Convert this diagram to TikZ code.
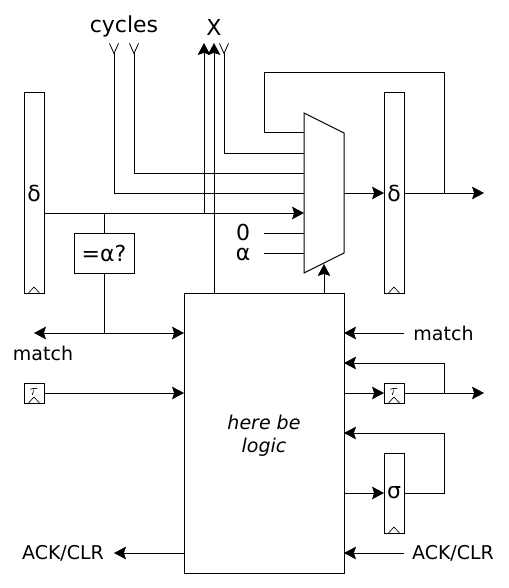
\documentclass[tikz,border=0pt]{standalone}
\usepackage{fontspec}
\setmainfont{DejaVu Sans}
\usetikzlibrary{arrows.meta,calc}
\tikzset{
  x=0.75pt,y=-0.75pt,
  every path/.style={line width=0.75pt},
  wire/.style={draw=black},
  arr/.style={wire,-{Stealth[length=9pt,width=9.5pt,inset=1.6pt]}},
  barr/.style={wire,{Stealth[length=9pt,width=9.5pt,inset=1.6pt]}-{Stealth[length=9pt,width=9.5pt,inset=1.6pt]}},
  openin/.style={wire,{Straight Barb[reversed,length=7.5pt,width=6.8pt,line width=0.6pt]}-},
  reg/.style={draw=black,rectangle,minimum width=15pt,inner sep=0pt,outer sep=0pt,line width=0.75pt},
  box/.style={draw=black,rectangle,inner sep=0pt,outer sep=0pt,line width=0.75pt},
  smalltxt/.style={font=\fontsize{14.25}{17}\selectfont,inner sep=0pt},
  bigtxt/.style={font=\fontsize{16.5}{19}\selectfont,inner sep=0pt},
  clk/.style={draw=black,line width=0.5pt},
}
\newcommand{\clocktick}[1]{\draw[clk] ($(#1.south)+(-5.5,0)$) -- ($(#1.south)+(0,-6)$) -- ($(#1.south)+(5.5,0)$);}
\begin{document}
\begin{tikzpicture}
\useasboundingbox (0,0) rectangle (509,588);
% registers and boxes
\node[reg,minimum height=150pt,bigtxt] (dl) at (34,193) {δ};
\node[reg,minimum height=150pt,bigtxt] (dr) at (394,193) {δ};
\node[reg,minimum height=15pt] (tl) at (34,393) {\raisebox{1.6pt}{\large$\tau$}};
\node[reg,minimum height=15pt] (tr) at (394,393) {\raisebox{1.6pt}{\large$\tau$}};
\node[reg,minimum height=60pt,bigtxt] (sg) at (394,493) {σ};
\node[box,minimum width=45pt,minimum height=30pt,bigtxt] (eq) at (104,253) {=α?};
\node[box,minimum width=120pt,minimum height=210pt,inner sep=0pt] (lg) at (264,433) {};
\node[align=center,inner sep=0pt,font=\fontsize{14.25}{17.25}\selectfont\itshape] (lgt) at (264,436) {here be\\logic};
\clocktick{dl}\clocktick{dr}\clocktick{tl}\clocktick{tr}\clocktick{sg}
% mux
\coordinate (m1) at (304,113);
\coordinate (m2) at (344,133);
\coordinate (m3) at (344,253);
\coordinate (m4) at (304,273);
\draw (m1) -- (m2) -- (m3) -- (m4) -- cycle;
\coordinate (mfb) at (304,133);
\coordinate (mx) at (304,153);
\coordinate (mc2) at (304,173);
\coordinate (mc1) at (304,193);
\coordinate (md) at (304,213);
\coordinate (mz) at (304,233);
\coordinate (ma) at (304,253);
\coordinate (mo) at (344,193);
\coordinate (ms) at (324,264);
% text labels
\node[bigtxt] (cyc) at (124,26) {cycles};
\node[bigtxt] (xl) at (214,27) {X};
\node[bigtxt] (zero) at (243,232) {0};
\node[bigtxt] (alpha) at (243,254) {α};
\node[smalltxt] (mtl) at (43,353) {match};
\node[smalltxt] (mtr) at (443.5,333) {match};
\node[smalltxt] (ackl) at (63,553) {ACK/CLR};
\node[smalltxt] (ackr) at (453,553) {ACK/CLR};
% free ends
\coordinate (c1) at (114,43);
\coordinate (c2) at (134,43);
\coordinate (x1) at (204,43);
\coordinate (x2) at (214,43);
\coordinate (x3) at (224,43);
\coordinate (ml) at (34,333);
\coordinate (outd) at (484,193);
\coordinate (outt) at (484,393);
\coordinate (ackle) at (114,553);
% top inputs
\draw[openin] (c1) |- (mc1);
\draw[openin] (c2) |- (mc2);
\draw[openin] (x3) |- (mx);
% left delta
\draw[arr] (dl.east |- md) -- (md);
\draw[arr] (x1 |- md) -- (x1);
\draw[wire] (eq.north) -- (eq.north |- md);
\draw[arr] (lg.north -| x2) -- (x2);
% equals to match
\draw[barr] (ml) -- (lg.west |- ml);
\draw[wire] (eq.south) -- (eq.south |- ml);
% constants
\draw[wire] (264,233) -- (mz);
\draw[wire] (264,253) -- (ma);
% mux feedback and output
\draw[wire] (dr.east) -| (444,73) -| (264,133) -- (mfb);
\draw[arr] (mo) -- (dr.west);
\draw[arr] (dr.east) -- (outd);
\draw[arr] (lg.north -| ms) -- (ms);
% left of logic
\draw[arr] (tl.east) -- (lg.west |- tl);
\draw[arr] (lg.west |- ackle) -- (ackle);
% right of logic
\draw[arr] (404,333) -- (lg.east |- mtr);
\draw[arr] (lg.east |- tr) -- (tr.west);
\draw[arr] (tr.east) -- (outt);
\draw[arr] (444,393) |- (344,363);
\draw[arr] (lg.east |- sg) -- (sg.west);
\draw[arr] (sg.east) -| (444,433) -- (344,433);
\draw[arr] (404,553) -- (344,553);
\end{tikzpicture}
\end{document}
